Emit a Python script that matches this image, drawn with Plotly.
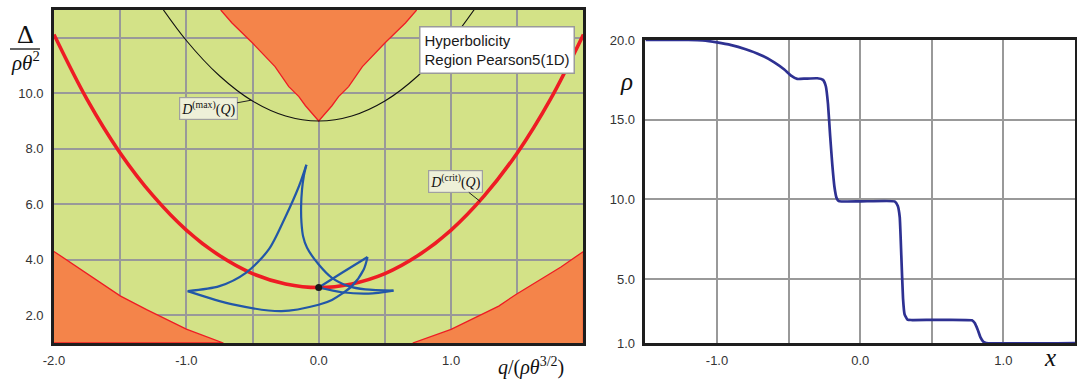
import plotly.graph_objects as go

W, H = 1077, 379

# ---------------- Left panel data ----------------
crit_q = [-2.0, -1.75, -1.5, -1.25, -1.0, -0.75, -0.5, -0.25, 0.0, 0.25, 0.5, 0.75, 1.0, 1.25, 1.5, 1.75, 2.0]
crit_D = [12.12, 9.78, 7.85, 6.30, 5.07, 4.15, 3.50, 3.13, 3.00, 3.13, 3.50, 4.15, 5.07, 6.30, 7.85, 9.78, 12.12]

max_q = [-1.25, -1.0, -0.75, -0.5, -0.25, 0.0, 0.25, 0.5, 0.75, 1.0, 1.25]
max_D = [13.53, 11.9, 10.63, 9.72, 9.18, 9.0, 9.18, 9.72, 10.63, 11.9, 13.53]

top_q = [-0.74, -0.655, -0.5, -0.33, -0.226, -0.15, -0.1, 0.0, 0.1, 0.15, 0.226, 0.33, 0.5, 0.655, 0.74]
top_D = [13.0, 12.53, 11.81, 10.96, 10.24, 9.88, 9.55, 9.0, 9.55, 9.88, 10.24, 10.96, 11.81, 12.53, 13.0]

bl_q = [-2.0, -1.82, -1.5, -1.3, -1.0, -0.72, -2.0]
bl_D = [4.3, 3.72, 2.7, 2.2, 1.5, 1.0, 1.0]

br_q = [0.71, 1.0, 1.36, 1.49, 1.83, 2.0, 2.0]
br_D = [1.0, 1.49, 2.33, 2.75, 3.74, 4.3, 1.0]

trajA_q = [-0.99, -0.75, -0.55, -0.377, -0.25, -0.15, -0.093]
trajA_D = [2.87, 3.05, 3.53, 4.37, 5.56, 6.64, 7.42]
trajB_q = [-0.093, -0.113, -0.126, -0.133, -0.13, -0.118, -0.088, 0.0, 0.10, 0.226, 0.352, 0.565]
trajB_D = [7.42, 7.0, 6.53, 5.92, 5.33, 4.85, 4.43, 3.83, 3.35, 3.05, 2.93, 2.89]
trajC_q = [-0.99, -0.65, -0.28, 0.0, 0.10, 0.25, 0.34, 0.369]
trajC_D = [2.87, 2.39, 2.15, 2.38, 2.55, 3.05, 3.65, 4.10]
trajD_q = [0.0, 0.176, 0.369]
trajD_D = [3.0, 3.53, 4.10]
trajE_q = [0.0, 0.176, 0.377, 0.565]
trajE_D = [3.0, 2.83, 2.78, 2.89]

point_q = [0.0]
point_D = [3.0]

left_xticks = [-2.0, -1.5, -1.0, -0.5, 0.0, 0.5, 1.0, 1.5, 2.0]
left_xtext = ["-2.0", "", "-1.0", "", "0.0", "", "1.0", "", ""]
left_yticks = [2, 4, 6, 8, 10, 12]
left_ytext = ["2.0", "4.0", "6.0", "8.0", "10.0", ""]

# ---------------- Right panel data ----------------
rho_x = [-1.5, -1.2, -1.1, -1.0, -0.9, -0.8, -0.7, -0.6, -0.53, -0.48, -0.44, -0.38, -0.30, -0.26,
         -0.24, -0.225, -0.21, -0.195, -0.18, -0.165, -0.15, 0.0, 0.24, 0.262, 0.276, 0.287, 0.299,
         0.31, 0.33, 0.36, 0.78, 0.80, 0.82, 0.84, 0.86, 0.88, 1.5]
rho_v = [20.0, 20.0, 19.97, 19.85, 19.68, 19.42, 19.08, 18.6, 18.15, 17.75, 17.56, 17.58, 17.6, 17.5,
         17.1, 16.0, 14.0, 12.2, 10.8, 10.1, 9.9, 9.88, 9.88, 9.6, 8.9, 6.5, 3.8,
         2.8, 2.47, 2.44, 2.42, 2.25, 1.85, 1.35, 1.08, 1.0, 1.0]

right_xticks = [-1.5, -1.0, -0.5, 0.0, 0.5, 1.0, 1.5]
right_xtext = ["", "-1.0", "", "0.0", "", "1.0", ""]
right_yticks = [1, 5, 10, 15, 20]
right_ytext = ["1.0", "5.0", "10.0", "15.0", "20.0"]

GREEN = "#d3e287"
ORANGE = "#f4844a"
RED = "#ee1c24"
BLUE = "#2257a8"
NAVY = "#2e3192"
SERIF = "Liberation Serif, DejaVu Serif, serif"
SANS = "Liberation Sans, Arial, sans-serif"


def px(x):
    return x / W


def py(y):
    return 1 - y / H


fig = go.Figure()

# orange non-hyperbolic regions
for qq, dd in [(top_q, top_D), (bl_q, bl_D), (br_q, br_D)]:
    fig.add_trace(go.Scatter(x=qq, y=dd, mode="lines", fill="toself", fillcolor=ORANGE,
                             line=dict(color=RED, width=1.3), xaxis="x", yaxis="y",
                             showlegend=False, hoverinfo="skip"))

# D max
fig.add_trace(go.Scatter(x=max_q, y=max_D, mode="lines", line=dict(color="#111111", width=1.1, shape="spline"),
                         xaxis="x", yaxis="y", showlegend=False))
# D crit
fig.add_trace(go.Scatter(x=crit_q, y=crit_D, mode="lines", line=dict(color=RED, width=3.6, shape="spline"),
                         xaxis="x", yaxis="y", showlegend=False))

# trajectory
for qq, dd in [(trajA_q, trajA_D), (trajB_q, trajB_D), (trajC_q, trajC_D), (trajD_q, trajD_D), (trajE_q, trajE_D)]:
    fig.add_trace(go.Scatter(x=qq, y=dd, mode="lines", line=dict(color=BLUE, width=2.2, shape="spline", smoothing=0.8),
                             xaxis="x", yaxis="y", showlegend=False))

fig.add_trace(go.Scatter(x=point_q, y=point_D, mode="markers", marker=dict(color="#1a1a1a", size=7),
                         xaxis="x", yaxis="y", showlegend=False))

# right panel
fig.add_trace(go.Scatter(x=rho_x, y=rho_v, mode="lines", line=dict(color=NAVY, width=2.7, shape="spline", smoothing=0.4),
                         xaxis="x2", yaxis="y2", showlegend=False))

axis_common = dict(showline=True, linecolor="#1e1e1e", linewidth=2.6, mirror=True,
                   showgrid=True, gridcolor="#999999", gridwidth=1.6, zeroline=False,
                   ticks="", tickfont=dict(family=SANS, size=13, color="#333333"),
                   tickmode="array", automargin=False)

fig.update_layout(
    width=W, height=H,
    margin=dict(l=0, r=1, t=0, b=0),
    paper_bgcolor="white", plot_bgcolor="white",
    showlegend=False,
    xaxis=dict(domain=[px(54), px(584)], range=[-2, 2], anchor="y",
               tickvals=left_xticks, ticktext=left_xtext, ticklabelstandoff=4, **axis_common),
    yaxis=dict(domain=[py(343), py(10)], range=[1, 13], anchor="x",
               tickvals=left_yticks, ticktext=left_ytext, ticklabelstandoff=5, **axis_common),
    xaxis2=dict(domain=[px(646), px(1076)], range=[-1.5, 1.5], anchor="y2",
                tickvals=right_xticks, ticktext=right_xtext, ticklabelstandoff=4, **axis_common),
    yaxis2=dict(domain=[py(343), py(40)], range=[1, 20], anchor="x2",
                tickvals=right_yticks, ticktext=right_ytext, ticklabelstandoff=5, **axis_common),
)

# green background for left panel
fig.add_shape(type="rect", xref="x domain", yref="y domain", x0=0, x1=1, y0=0, y1=1,
              fillcolor=GREEN, line=dict(width=0), layer="below")

# fraction bar of y label
fig.add_shape(type="line", xref="paper", yref="paper", x0=px(10), x1=px(40), y0=py(49), y1=py(49),
              line=dict(color="#111111", width=1.3))

C = dict(xanchor="center", yanchor="middle", showarrow=False, xref="paper", yref="paper")
ann = []
ann.append(dict(x=px(25.5), y=py(34), text="Δ",
                font=dict(family=SERIF, size=26, color="#111111"), **C))
ann.append(dict(x=px(26), y=py(62), text="<i>ρθ</i><sup>2</sup>",
                font=dict(family=SERIF, size=21, color="#111111"), **C))
ann.append(dict(x=px(531), y=py(366),
                text="<i>q</i>/(<i>ρθ</i><sup>3/2</sup>)",
                font=dict(family=SERIF, size=20, color="#111111"), **C))
ann.append(dict(x=px(627), y=py(82), text="<i>ρ</i>",
                font=dict(family=SERIF, size=25, color="#111111"), **C))
ann.append(dict(x=px(1051), y=py(357), text="<i>x</i>",
                font=dict(family=SERIF, size=25, color="#111111"), **C))
ann.append(dict(x=px(497.5), y=py(50),
                text="Hyperbolicity<br>Region Pearson5(1D)", align="left",
                font=dict(family=SANS, size=15, color="#1a1a1a"),
                bgcolor="white", bordercolor="#9a9a9a", borderwidth=1.5, borderpad=4, **C))
ann.append(dict(xref="x", yref="y", x=-0.51, y=9.75, ax=-43, ay=8, axref="pixel", ayref="pixel",
                text="<i>D</i><sup>(max)</sup>(<i>Q</i>)", showarrow=True, arrowhead=0, arrowwidth=1,
                arrowcolor="#222222", font=dict(family=SERIF, size=14, color="#111111"),
                bgcolor="#eef0d8", bordercolor="#a0a0a0", borderwidth=1.2, borderpad=1))
ann.append(dict(xref="x", yref="y", x=1.22, y=6.1, ax=-25, ay=-20, axref="pixel", ayref="pixel",
                text="<i>D</i><sup>(crit)</sup>(<i>Q</i>)", showarrow=True, arrowhead=0, arrowwidth=1,
                arrowcolor="#222222", font=dict(family=SERIF, size=14, color="#111111"),
                bgcolor="#eef0d8", bordercolor="#a0a0a0", borderwidth=1.2, borderpad=1))
fig.update_layout(annotations=ann)

fig.write_html("out.html", config={"displayModeBar": False},
               post_script="document.body.style.margin='0';document.body.style.overflow='hidden';")
